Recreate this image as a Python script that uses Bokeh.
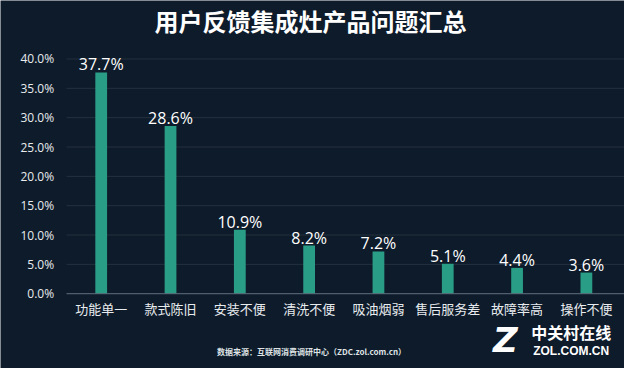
from bokeh.plotting import figure
from bokeh.models import ColumnDataSource, Range1d, Label, Span
from bokeh.embed import file_html
from bokeh.resources import INLINE
from bokeh.core.properties import value

categories = ["功能单一", "款式陈旧", "安装不便", "清洗不便", "吸油烟弱", "售后服务差", "故障率高", "操作不便"]
values = [37.7, 28.6, 10.9, 8.2, 7.2, 5.1, 4.4, 3.6]
value_labels = ["%.1f%%" % v for v in values]
y_ticks = [0, 5, 10, 15, 20, 25, 30, 35, 40]
y_tick_labels = ["%.1f%%" % t for t in y_ticks]
xpos = list(range(len(categories)))
zeros = [0] * len(categories)

BG = "#0e1b2a"
BAR = "#2a9d86"
TXT = "#e8ecef"
X0, X1 = -0.5, 7.55

src = ColumnDataSource(dict(x=xpos, top=values, lab=value_labels, cat=categories, base=zeros))
tsrc = ColumnDataSource(dict(y=y_ticks, lab=y_tick_labels,
                             x0=[X0] * len(y_ticks), x1=[X1] * len(y_ticks),
                             xl=[-0.68] * len(y_ticks)))

p = figure(width=624, height=368, output_backend="svg", toolbar_location=None,
           x_range=Range1d(-1.453, X1), y_range=Range1d(-12.75, 49.97),
           min_border_left=0, min_border_right=0, min_border_top=0, min_border_bottom=0,
           background_fill_color=BG, border_fill_color=BG, outline_line_color=None)
p.xaxis.visible = False
p.yaxis.visible = False
p.xgrid.grid_line_color = None
p.ygrid.grid_line_color = None

# gridlines and y tick labels
p.segment(x0="x0", y0="y", x1="x1", y1="y", source=tsrc, line_color="#24313f", line_width=1)
p.text(x="xl", y="y", text="lab", source=tsrc, text_align="right", text_baseline="middle",
       text_color=TXT, text_font=value("Open Sans"), text_font_size="12px")

p.vbar(x="x", top="top", width=0.17, source=src, fill_color=BAR, line_color=None)
p.text(x="x", y="top", text="lab", source=src, text_align="center", text_baseline="alphabetic",
       y_offset=-8, text_color="#ffffff", text_font=value("Open Sans"), text_font_size="16px")
p.text(x="x", y="base", text="cat", source=src, text_align="center", text_baseline="middle",
       y_offset=15, text_color=TXT, text_font=value("Noto Sans CJK SC"), text_font_size="13px")

# x axis line
p.segment(x0=[X0], y0=[0], x1=[X1], y1=[0], line_color="#5c6b7a", line_width=1)

p.add_layout(Label(x=3.02, y=46.54, text="用户反馈集成灶产品问题汇总",
                   text_align="center", text_baseline="middle", text_color="#ffffff",
                   text_font="Noto Sans CJK SC", text_font_size="24px", text_font_style="bold"))
p.add_layout(Label(x=3.035, y=-9.8, text="数据来源：互联网消费调研中心（ZDC.zol.com.cn）",
                   text_align="center", text_baseline="middle", text_color="#dfe3e6",
                   text_font="Noto Sans CJK SC", text_font_size="8px", text_font_style="bold"))
p.add_layout(Label(x=5.83, y=-7.9, text="Z", text_align="center", text_baseline="middle",
                   text_color="#ffffff", text_font="DejaVu Sans", text_font_size="34px",
                   text_font_style="bold italic"))
p.add_layout(Label(x=6.78, y=-6.5, text="中关村在线", text_align="center", text_baseline="middle",
                   text_color="#ffffff", text_font="Noto Sans CJK SC", text_font_size="16px",
                   text_font_style="bold"))
p.add_layout(Label(x=6.78, y=-9.7, text="ZOL.COM.CN", text_align="center", text_baseline="middle",
                   text_color="#ffffff", text_font="Liberation Sans", text_font_size="12px",
                   text_font_style="bold"))

open("out.html", "w").write(file_html(p, INLINE))
